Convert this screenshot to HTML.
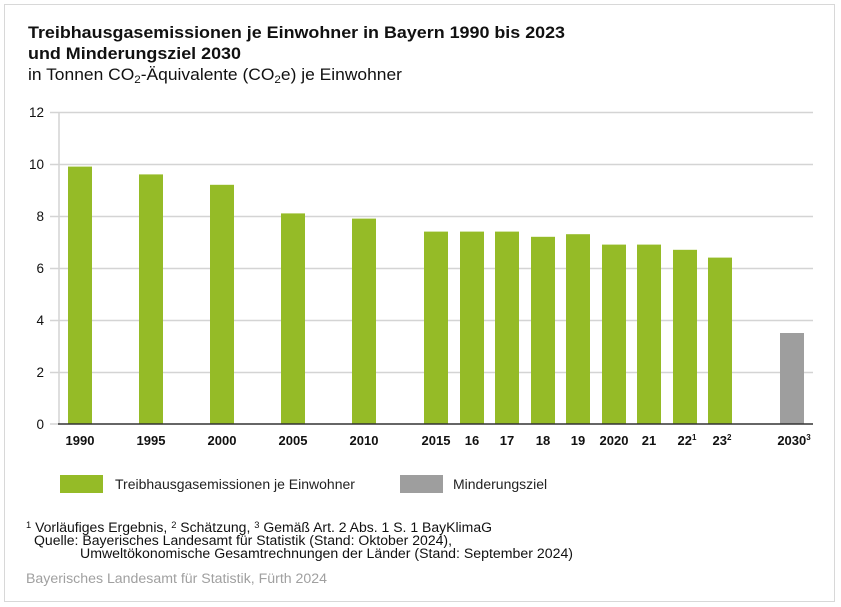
<!DOCTYPE html>
<html><head><meta charset="utf-8"><style>
html,body{margin:0;padding:0;background:#fff}
svg{display:block;font-family:"Liberation Sans",sans-serif}
</style></head><body>
<svg width="841" height="607" viewBox="0 0 841 607" xmlns="http://www.w3.org/2000/svg">
<rect x="4.5" y="4.5" width="830" height="597" fill="#fff" stroke="#d8d8d8" stroke-width="1"/>
<text x="28" y="38" font-size="16.5" font-weight="bold" fill="#111" textLength="537" lengthAdjust="spacingAndGlyphs">Treibhausgasemissionen je Einwohner in Bayern 1990 bis 2023</text>
<text x="28" y="59" font-size="16.5" font-weight="bold" fill="#111" textLength="213" lengthAdjust="spacingAndGlyphs">und Minderungsziel 2030</text>
<text x="28" y="80" font-size="16.5" fill="#111" textLength="374" lengthAdjust="spacingAndGlyphs">in Tonnen CO<tspan font-size="11" dy="3">2</tspan><tspan dy="-3">-Äquivalente (CO</tspan><tspan font-size="11" dy="3">2</tspan><tspan dy="-3">e) je Einwohner</tspan></text>
<g stroke="#d4d4d4" stroke-width="1.5">
<line x1="50" y1="112.5" x2="813" y2="112.5"/>
<line x1="50" y1="164.5" x2="813" y2="164.5"/>
<line x1="50" y1="216.5" x2="813" y2="216.5"/>
<line x1="50" y1="268.5" x2="813" y2="268.5"/>
<line x1="50" y1="320.5" x2="813" y2="320.5"/>
<line x1="50" y1="372.5" x2="813" y2="372.5"/>
<line x1="50" y1="424" x2="58" y2="424"/>
<line x1="59" y1="112" x2="59" y2="424"/>
</g>
<g font-size="13.5" fill="#111" text-anchor="end">
<text x="44" y="117">12</text><text x="44" y="169">10</text><text x="44" y="221">8</text>
<text x="44" y="273">6</text><text x="44" y="325">4</text><text x="44" y="377">2</text><text x="44" y="429">0</text>
</g>
<g fill="#95bb27">
<rect x="68" y="166.6" width="24" height="257.4"/>
<rect x="139" y="174.4" width="24" height="249.6"/>
<rect x="210" y="184.8" width="24" height="239.2"/>
<rect x="281" y="213.4" width="24" height="210.6"/>
<rect x="352" y="218.6" width="24" height="205.4"/>
<rect x="424" y="231.6" width="24" height="192.4"/>
<rect x="460" y="231.6" width="24" height="192.4"/>
<rect x="495" y="231.6" width="24" height="192.4"/>
<rect x="531" y="236.8" width="24" height="187.2"/>
<rect x="566" y="234.2" width="24" height="189.8"/>
<rect x="602" y="244.6" width="24" height="179.4"/>
<rect x="637" y="244.6" width="24" height="179.4"/>
<rect x="673" y="249.8" width="24" height="174.2"/>
<rect x="708" y="257.6" width="24" height="166.4"/>
</g>
<rect x="780" y="333" width="24" height="91" fill="#9e9e9e"/>
<line x1="58" y1="424" x2="813" y2="424" stroke="#333" stroke-width="1.5"/>
<g font-size="13" font-weight="bold" fill="#111" text-anchor="middle">
<text x="80" y="445">1990</text><text x="151" y="445">1995</text><text x="222" y="445">2000</text>
<text x="293" y="445">2005</text><text x="364" y="445">2010</text><text x="436" y="445">2015</text>
<text x="472" y="445">16</text><text x="507" y="445">17</text><text x="543" y="445">18</text>
<text x="578" y="445">19</text><text x="614" y="445">2020</text><text x="649" y="445">21</text>
<text x="687" y="445">22<tspan font-size="8" dy="-5">1</tspan></text>
<text x="722" y="445">23<tspan font-size="8" dy="-5">2</tspan></text>
<text x="794" y="445">2030<tspan font-size="8" dy="-5">3</tspan></text>
</g>
<rect x="60" y="475" width="43" height="18" fill="#95bb27"/>
<text x="115" y="489" font-size="14" fill="#222">Treibhausgasemissionen je Einwohner</text>
<rect x="400" y="475" width="43" height="18" fill="#9e9e9e"/>
<text x="453" y="489" font-size="14" fill="#222">Minderungsziel</text>
<g font-size="13.5" fill="#111">
<text x="26" y="532" textLength="466" lengthAdjust="spacingAndGlyphs"><tspan font-size="9" dy="-4">1</tspan><tspan dy="4"> Vorläufiges Ergebnis, </tspan><tspan font-size="9" dy="-4">2</tspan><tspan dy="4"> Schätzung, </tspan><tspan font-size="9" dy="-4">3</tspan><tspan dy="4"> Gemäß Art. 2 Abs. 1 S. 1 BayKlimaG</tspan></text>
<text x="34" y="545" textLength="418" lengthAdjust="spacingAndGlyphs">Quelle: Bayerisches Landesamt für Statistik (Stand: Oktober 2024),</text>
<text x="80" y="558" textLength="493" lengthAdjust="spacingAndGlyphs">Umweltökonomische Gesamtrechnungen der Länder (Stand: September 2024)</text>
</g>
<text x="26" y="583" font-size="13.5" fill="#a0a0a0" textLength="301" lengthAdjust="spacingAndGlyphs">Bayerisches Landesamt für Statistik, Fürth 2024</text>
</svg>
</body></html>
